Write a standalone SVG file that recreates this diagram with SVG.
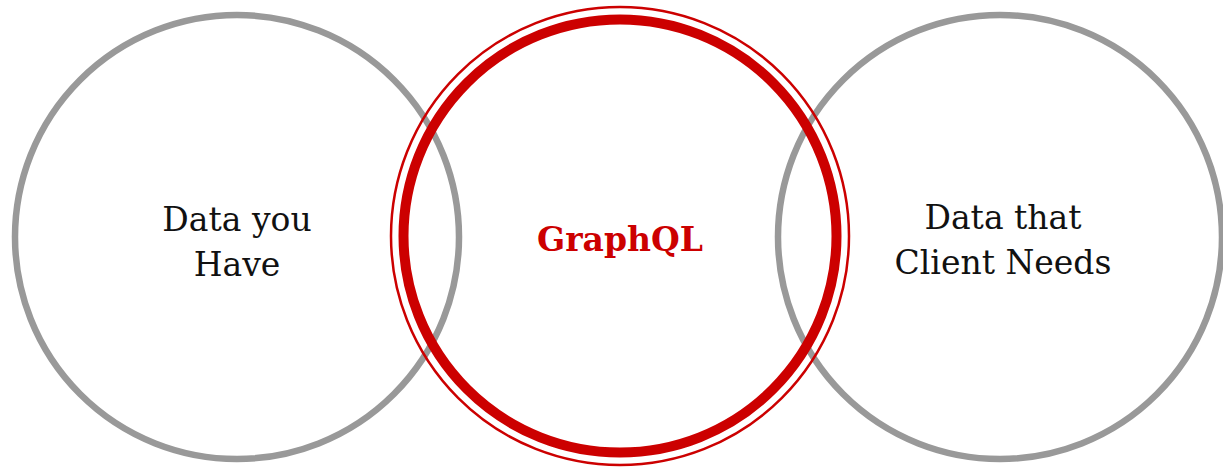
<svg xmlns="http://www.w3.org/2000/svg" width="1223" height="469" viewBox="0 0 1223 469">
  <style>
    .ring { fill: none; stroke: #999999; stroke-width: 6.5; }
    .core-thick { fill: none; stroke: #cc0000; stroke-width: 10; }
    .core-thin { fill: none; stroke: #cc0000; stroke-width: 2.5; }
    .label { font-family: "DejaVu Serif", "Liberation Serif", serif; font-size: 33px; fill: #111111; text-anchor: middle; }
    .title { font-family: "DejaVu Serif", "Liberation Serif", serif; font-size: 33px; font-weight: bold; fill: #cc0000; text-anchor: middle; }
  </style>
  <rect width="1223" height="469" fill="#ffffff"/>

  <g id="data-you-have">
    <circle class="ring" cx="237" cy="237" r="222"/>
    <text class="label" x="237" y="231">Data you</text>
    <text class="label" x="237" y="276">Have</text>
  </g>

  <g id="client-needs">
    <circle class="ring" cx="1000" cy="237" r="222"/>
    <text class="label" x="1003" y="229">Data that</text>
    <text class="label" x="1003" y="274">Client Needs</text>
  </g>

  <g id="graphql">
    <circle class="core-thin" cx="620" cy="236" r="229"/>
    <circle class="core-thick" cx="620" cy="236" r="216.5"/>
    <text class="title" x="620" y="251">GraphQL</text>
  </g>

  <g id="connectors"></g>
</svg>
